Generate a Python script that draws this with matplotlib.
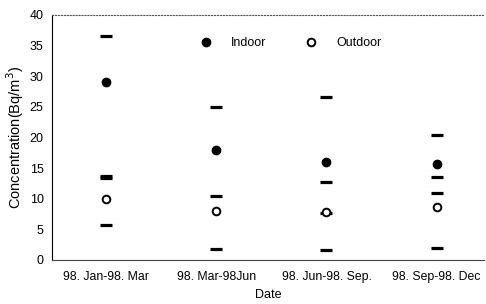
import numpy as np
import matplotlib
matplotlib.use('Agg')
import matplotlib.pyplot as plt

plt.rcParams['font.family'] = ['Liberation Sans', 'DejaVu Sans']

# data
categories = ['98. Jan-98. Mar', '98. Mar-98Jun', '98. Jun-98. Sep.', '98. Sep-98. Dec']
indoor = [29.1, 18.0, 16.0, 15.6]
outdoor = [10.0, 8.0, 7.9, 8.7]
range_max = [36.5, 25.0, 26.6, 20.4]
range_min = [5.7, 1.8, 1.6, 2.0]
mark_a = [13.3, 10.5, 12.7, 13.6]
mark_b = [13.7, np.nan, 7.6, 11.0]

fig = plt.figure(figsize=(4.86, 3.04), dpi=100)
ax = fig.add_axes([0.107, 0.145, 0.889, 0.806])

x = np.arange(len(categories))

# horizontal dash markers
for vals in (range_max, range_min, mark_a, mark_b):
    ax.plot(x, vals, linestyle='none', marker='_', markersize=8.5,
            markeredgewidth=2.3, color='black', zorder=2)

ax.plot(x, indoor, linestyle='none', marker='o', markersize=6,
        color='black', label='Indoor', zorder=3)
ax.plot(x, outdoor, linestyle='none', marker='o', markersize=5.5,
        markerfacecolor='white', markeredgecolor='black', markeredgewidth=1.4,
        label='Outdoor', zorder=3)

ax.set_xlim(-0.49, 3.43)
ax.set_ylim(0, 40)
ax.set_yticks(np.arange(0, 41, 5))
ax.set_xticks(x)
ax.set_xticklabels(categories, fontsize=8.8)
ax.tick_params(axis='y', labelsize=9, length=0, pad=6)
ax.tick_params(axis='x', length=0, pad=8)

ax.spines['right'].set_visible(False)
ax.spines['top'].set_linestyle(':')
ax.spines['top'].set_linewidth(0.8)
ax.spines['top'].set_color('#555555')
ax.spines['left'].set_linewidth(0.8)
ax.spines['bottom'].set_linewidth(0.8)
ax.spines['bottom'].set_color('#444444')

ax.set_xlabel('Date', fontsize=9, labelpad=4)
ax.set_ylabel('Concentration(Bq/m$^3$)', fontsize=10.5, labelpad=3)

ax.legend(loc='upper center', bbox_to_anchor=(0.545, 0.955), ncol=2, frameon=False,
          fontsize=9, handletextpad=1.0, columnspacing=2.6, numpoints=1)

fig.savefig('out.png', dpi=100)
